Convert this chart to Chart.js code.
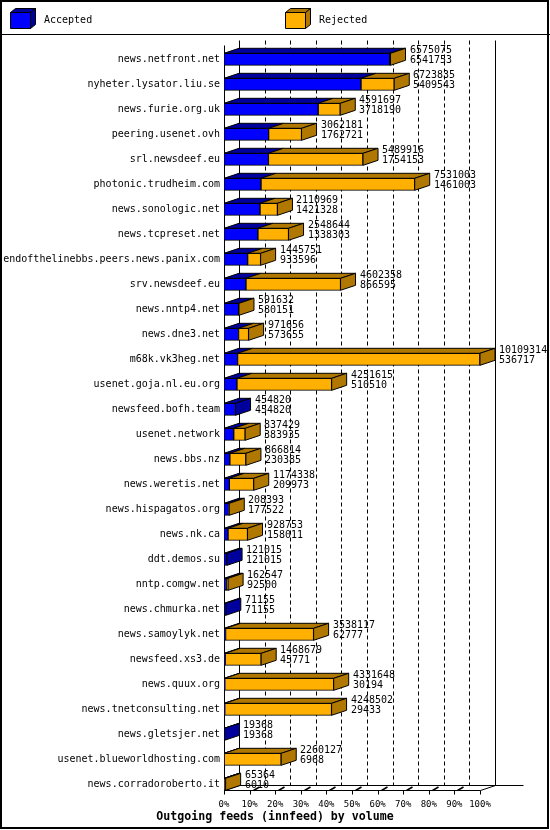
<!DOCTYPE html>
<html><head><meta charset="utf-8">
<script src="https://cdn.jsdelivr.net/npm/chart.js@4/dist/chart.umd.min.js"></script>
<style>html,body{margin:0;padding:0;background:#fff;}canvas{display:block;}</style>
</head><body>
<canvas id="c" width="550" height="830"></canvas>
<script>
const categories = [
  'news.netfront.net','nyheter.lysator.liu.se','news.furie.org.uk','peering.usenet.ovh',
  'srl.newsdeef.eu','photonic.trudheim.com','news.sonologic.net','news.tcpreset.net',
  'endofthelinebbs.peers.news.panix.com','srv.newsdeef.eu','news.nntp4.net','news.dne3.net',
  'm68k.vk3heg.net','usenet.goja.nl.eu.org','newsfeed.bofh.team','usenet.network',
  'news.bbs.nz','news.weretis.net','news.hispagatos.org','news.nk.ca','ddt.demos.su',
  'nntp.comgw.net','news.chmurka.net','news.samoylyk.net','newsfeed.xs3.de','news.quux.org',
  'news.tnetconsulting.net','news.gletsjer.net','usenet.blueworldhosting.com','news.corradoroberto.it'
];
const offered = [
  6575075, 6723835, 4591697, 3062181, 5489916, 7531003, 2110969, 2548644, 1445751, 4602358,
  591632, 971656, 10109314, 4251615, 454820, 837429, 866814, 1174338, 208393, 928753,
  121015, 162547, 71155, 3538117, 1468679, 4331648, 4248502, 19368, 2260127, 65364
];
const accepted = [
  6541753, 5409543, 3718190, 1762721, 1754153, 1461003, 1421328, 1338303, 933596, 866595,
  580151, 573655, 536717, 510510, 454820, 383935, 230385, 209973, 177522, 158011,
  121015, 92500, 71155, 62777, 45771, 30194, 29433, 19368, 6968, 6010
];
const rejected = [
  33322, 1314292, 873507, 1299460, 3735763, 6070000, 689641, 1210341, 512155, 3735763,
  11481, 398001, 9572597, 3741105, 0, 453494, 636429, 964365, 30871, 770742,
  0, 70047, 0, 3475340, 1422908, 4301454, 4219069, 0, 2253159, 59354
];
const tickLabels = ['0%','10%','20%','30%','40%','50%','60%','70%','80%','90%','100%'];
const seriesNames = ['Accepted','Rejected'];
const axisTitle = 'Outgoing feeds (innfeed) by volume';
const scaleMax = Math.max(...offered);

const FRONT = ['#0000FF', '#FFB000'];
const DARK = ['#00009C', '#B07800'];
const DX = 15, DY = 5;
const MONO = "'DejaVu Sans Mono', monospace";
const px = v => Math.round(v) + 0.5;

function line(ctx, x1, y1, x2, y2) {
  ctx.beginPath(); ctx.moveTo(x1, y1); ctx.lineTo(x2, y2); ctx.stroke();
}
function poly(ctx, pts, fill) {
  ctx.beginPath();
  ctx.moveTo(pts[0][0], pts[0][1]);
  for (let k = 1; k < pts.length; k++) ctx.lineTo(pts[k][0], pts[k][1]);
  ctx.closePath();
  ctx.fillStyle = fill; ctx.fill();
  ctx.strokeStyle = '#000'; ctx.lineWidth = 1; ctx.stroke();
}

const plot3d = {
  id: 'plot3d',
  beforeDatasetsDraw(chart) {
    const ctx = chart.ctx, xs = chart.scales.x, ys = chart.scales.y;
    const x0 = px(xs.getPixelForValue(0)), x1 = px(xs.getPixelForValue(scaleMax));
    const yF = px(ys.getPixelForValue(categories.length - 1) + 6);
    const yT = px(ys.getPixelForValue(0) - 14);
    ctx.save();
    ctx.strokeStyle = '#000'; ctx.lineWidth = 1;
    // dashed back-wall grid lines
    ctx.setLineDash([4, 3]);
    for (let i = 1; i < tickLabels.length - 1; i++) {
      const xv = px(xs.getPixelForValue(scaleMax * i / (tickLabels.length - 1)) + DX);
      line(ctx, xv, yT - DY, xv, yF - DY);
    }
    ctx.setLineDash([]);
    // back wall edges
    line(ctx, x0 + DX, yT - DY, x0 + DX, yF - DY);
    line(ctx, x1 + DX, yT - DY, x1 + DX, yF - DY);
    // floor
    line(ctx, x0 + DX, yF - DY, x1 + DX + 28, yF - DY);
    line(ctx, x0, yF, x1, yF);
    line(ctx, x0, yF, x0 + DX, yF - DY);
    line(ctx, x1, yF, x1 + DX, yF - DY);
    // front axis
    line(ctx, x0, yT, x0, yF);
    // ticks and floor marks
    for (let i = 0; i < tickLabels.length; i++) {
      const xv = px(xs.getPixelForValue(scaleMax * i / (tickLabels.length - 1)));
      line(ctx, xv, yF, xv, yF + 4);
      if (i > 0 && i < tickLabels.length - 1) {
        ctx.lineWidth = 1.5;
        line(ctx, xv + 3, yF, xv + 9, yF - 3.5);
        ctx.lineWidth = 1;
      }
    }
    ctx.restore();
  },
  afterDatasetsDraw(chart) {
    const ctx = chart.ctx;
    const m0 = chart.getDatasetMeta(0).data, m1 = chart.getDatasetMeta(1).data;
    ctx.save();
    for (let i = 0; i < categories.length; i++) {
      const segs = [m0[i], m1[i]];
      const yt = segs[0].y - segs[0].height / 2, yb = segs[0].y + segs[0].height / 2;
      let last = 0;
      segs.forEach((el, d) => {
        const a = Math.min(el.base, el.x), b = Math.max(el.base, el.x);
        if (b - a < 0.01) return;
        last = d;
        poly(ctx, [[a, yt], [b, yt], [b + DX, yt - DY], [a + DX, yt - DY]], DARK[d]);
      });
      const xe = Math.max(segs[0].x, segs[1].x);
      poly(ctx, [[xe, yt], [xe + DX, yt - DY], [xe + DX, yb - DY], [xe, yb]], DARK[last]);
      // value labels
      ctx.fillStyle = '#000';
      ctx.font = '10px ' + MONO;
      ctx.textAlign = 'left'; ctx.textBaseline = 'middle';
      ctx.fillText(String(offered[i]), Math.round(xe + DX + 4), segs[0].y - 9);
      ctx.fillText(String(accepted[i]), Math.round(xe + DX + 4), segs[0].y + 1);
    }
    ctx.restore();
  },
  afterDraw(chart) {
    const ctx = chart.ctx;
    ctx.save();
    // legend
    const lg = [[10.5, 44], [285.5, 319]];
    ctx.font = '10px ' + MONO; ctx.textBaseline = 'middle'; ctx.textAlign = 'left';
    seriesNames.forEach((name, d) => {
      const bx = lg[d][0], by = 12.5, w = 20, h = 16, dx = 5, dy = 4;
      poly(ctx, [[bx, by], [bx + w, by], [bx + w + dx, by - dy], [bx + dx, by - dy]], DARK[d]);
      poly(ctx, [[bx + w, by], [bx + w + dx, by - dy], [bx + w + dx, by + h - dy], [bx + w, by + h]], DARK[d]);
      poly(ctx, [[bx, by], [bx + w, by], [bx + w, by + h], [bx, by + h]], FRONT[d]);
      ctx.fillStyle = '#000';
      ctx.fillText(name, lg[d][1], 20.5);
    });
    // separator and frame
    ctx.strokeStyle = '#000'; ctx.lineWidth = 1;
    line(ctx, 0, 34.5, 550, 34.5);
    ctx.lineWidth = 2;
    ctx.strokeRect(1, 1, 547, 827);
    // axis title
    ctx.fillStyle = '#000';
    ctx.font = 'bold 11.6px ' + MONO;
    ctx.textAlign = 'center'; ctx.textBaseline = 'middle';
    ctx.fillText(axisTitle, 275, 817);
    ctx.restore();
  }
};

new Chart(document.getElementById('c'), {
  type: 'bar',
  data: {
    labels: categories,
    datasets: [
      { label: seriesNames[0], data: accepted, backgroundColor: FRONT[0], borderColor: '#000',
        borderWidth: 1, borderSkipped: false, barThickness: 12 },
      { label: seriesNames[1], data: rejected, backgroundColor: FRONT[1], borderColor: '#000',
        borderWidth: 1, borderSkipped: false, barThickness: 12 }
    ]
  },
  options: {
    indexAxis: 'y',
    responsive: false,
    animation: false,
    devicePixelRatio: 1,
    layout: { padding: { left: 0, right: 70, top: 46.8, bottom: 13.2 } },
    plugins: { legend: { display: false }, tooltip: { enabled: false } },
    scales: {
      x: {
        stacked: true, min: 0, max: scaleMax,
        grid: { display: false, drawTicks: false }, border: { display: false },
        afterBuildTicks: s => { s.ticks = tickLabels.map((t, i) => ({ value: scaleMax * i / (tickLabels.length - 1) })); },
        afterFit: s => { s.height = 20; },
        ticks: { autoSkip: false, maxRotation: 0, minRotation: 0, padding: 2, color: '#000',
                 font: { family: MONO, size: 9 }, callback: (v, i) => tickLabels[i] }
      },
      y: {
        stacked: true,
        grid: { display: false, drawTicks: false }, border: { display: false },
        afterFit: s => { s.width = 224; },
        ticks: { autoSkip: false, padding: 4, color: '#000', font: { family: MONO, size: 10 } }
      }
    }
  },
  plugins: [plot3d]
});
</script>
</body></html>
